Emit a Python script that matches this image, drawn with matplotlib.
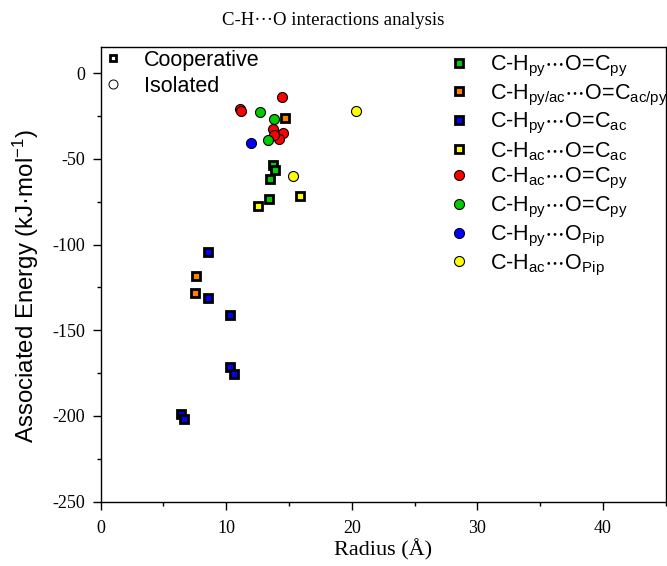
import matplotlib
matplotlib.use("Agg")
import matplotlib.pyplot as plt
from matplotlib.lines import Line2D
from matplotlib.ticker import MultipleLocator

plt.rcParams['mathtext.default'] = 'regular'
plt.rcParams['axes.unicode_minus'] = False

# Cooperative (squares)
coop_green_x = [13.76, 13.9, 13.46, 13.4]
coop_green_y = [-53.7, -56.4, -61.8, -73.4]
coop_orange_x = [14.7, 7.62, 7.51]
coop_orange_y = [-26.5, -118.6, -128.1]
coop_blue_x = [8.54, 8.57, 10.3, 10.29, 10.6, 6.43, 6.64]
coop_blue_y = [-104.5, -131.2, -141.3, -171.5, -175.4, -198.7, -201.7]
coop_yellow_x = [15.85, 12.5]
coop_yellow_y = [-71.5, -77.5]

# Isolated (circles)
iso_red_x = [14.47, 11.06, 11.17, 13.76, 14.5, 14.2, 13.8]
iso_red_y = [-13.95, -20.8, -21.9, -32.8, -34.9, -38.2, -36.0]
iso_green_x = [12.7, 13.8, 13.3]
iso_green_y = [-22.7, -26.8, -39.0]
iso_blue_x = [11.98]
iso_blue_y = [-40.8]
iso_yellow_x = [20.32, 15.3]
iso_yellow_y = [-22.4, -59.9]

labels = [
    r'C-H$_{py}$$\cdots$O=C$_{py}$',
    r'C-H$_{py/ac}$$\cdots$O=C$_{ac/py}$',
    r'C-H$_{py}$$\cdots$O=C$_{ac}$',
    r'C-H$_{ac}$$\cdots$O=C$_{ac}$',
    r'C-H$_{ac}$$\cdots$O=C$_{py}$',
    r'C-H$_{py}$$\cdots$O=C$_{py}$',
    r'C-H$_{py}$$\cdots$O$_{Pip}$',
    r'C-H$_{ac}$$\cdots$O$_{Pip}$',
]

GREEN = '#00cc00'
ORANGE = '#ff8000'
BLUE = '#0000ff'
YELLOW = '#ffff00'
RED = '#ff0000'

fig = plt.figure(figsize=(6.67, 5.66), dpi=100)
ax = fig.add_axes([0.151, 0.1136, 0.847, 0.8028])

sq = dict(marker='s', ms=5.3, mec='black', mew=2.0, ls='none', zorder=3)
ci = dict(marker='o', ms=7.2, mec='black', mew=0.8, ls='none', zorder=3)

h = []
h.append(ax.plot(coop_green_x, coop_green_y, mfc=GREEN, **sq)[0])
h.append(ax.plot(coop_orange_x, coop_orange_y, mfc=ORANGE, **sq)[0])
h.append(ax.plot(coop_blue_x, coop_blue_y, mfc=BLUE, **sq)[0])
h.append(ax.plot(coop_yellow_x, coop_yellow_y, mfc=YELLOW, **sq)[0])
h.append(ax.plot(iso_red_x, iso_red_y, mfc=RED, **ci)[0])
h.append(ax.plot(iso_green_x, iso_green_y, mfc=GREEN, **ci)[0])
h.append(ax.plot(iso_blue_x, iso_blue_y, mfc=BLUE, **ci)[0])
h.append(ax.plot(iso_yellow_x, iso_yellow_y, mfc=YELLOW, **ci)[0])

ax.set_xlim(0, 45)
ax.set_ylim(-250, 15)
ax.xaxis.set_major_locator(MultipleLocator(10))
ax.xaxis.set_minor_locator(MultipleLocator(5))
ax.yaxis.set_major_locator(MultipleLocator(50))
ax.yaxis.set_minor_locator(MultipleLocator(25))
ax.tick_params(which='both', direction='out', top=False, right=False, width=1.0)
ax.tick_params(which='major', length=6)
ax.tick_params(which='minor', length=3)
ax.tick_params(axis='x', which='major', pad=7)
ax.tick_params(axis='y', which='major', pad=5)
for s in ax.spines.values():
    s.set_linewidth(1.0)
for lab in ax.get_xticklabels() + ax.get_yticklabels():
    lab.set_fontfamily('Liberation Serif')
    lab.set_fontsize(13)

ax.set_xlabel('Radius (Å)', fontfamily='Liberation Serif', fontsize=16, labelpad=2)
ax.set_ylabel(r'Associated Energy (kJ·mol$^{-1}$)', fontfamily='Liberation Sans',
              fontsize=17.3)
ax.yaxis.set_label_coords(-0.105, 0.4736)
fig.suptitle('C-H···O interactions analysis', fontfamily='Liberation Serif',
             fontsize=13.5, y=0.978)

FS = 15.5
leg1_handles = [
    Line2D([], [], marker='s', ms=5.0, mfc='white', mec='black', mew=2.0, ls='none'),
    Line2D([], [], marker='o', ms=6.5, mfc='white', mec='black', mew=0.7, ls='none'),
]
leg1 = ax.legend(leg1_handles, ['Cooperative', 'Isolated'], loc='upper left',
                 frameon=False, prop={'family': 'Liberation Sans', 'size': FS},
                 handlelength=1.0, handletextpad=0.95, labelspacing=0.25,
                 borderaxespad=0.0, borderpad=0.4,
                 bbox_to_anchor=(-0.013, 1.014))
ax.add_artist(leg1)

leg2 = ax.legend(h, labels, loc='upper left', frameon=False,
                 prop={'family': 'Liberation Sans', 'size': FS},
                 handlelength=1.0, handletextpad=0.95, labelspacing=0.17,
                 borderaxespad=0.0, borderpad=0.4,
                 bbox_to_anchor=(0.600, 1.005))

fig.savefig('out.png', dpi=100)
